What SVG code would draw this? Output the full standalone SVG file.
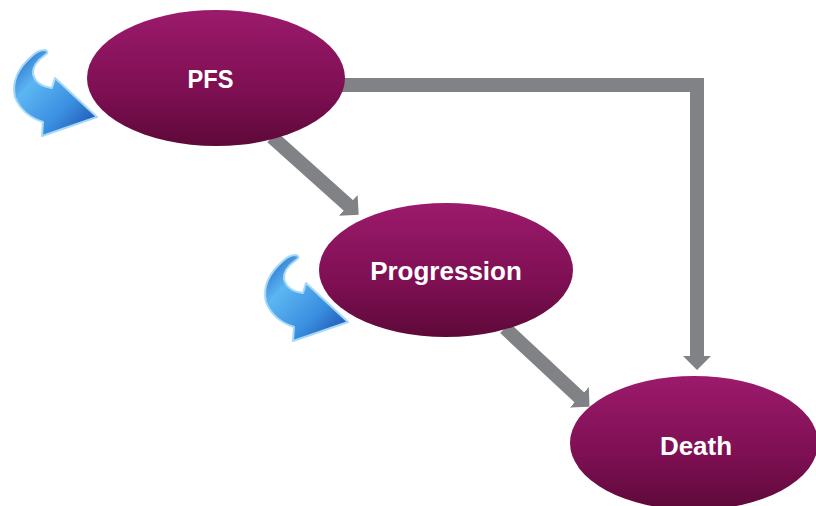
<svg xmlns="http://www.w3.org/2000/svg" width="816" height="506" viewBox="0 0 816 506">
<defs>
<linearGradient id="nodeFill" x1="0" y1="0" x2="0" y2="1">
<stop offset="0" stop-color="#9c1a6c"/>
<stop offset="0.6" stop-color="#7d0f52"/>
<stop offset="1" stop-color="#5e0939"/>
</linearGradient>
<linearGradient id="blueFill" x1="0" y1="0" x2="1" y2="1">
<stop offset="0" stop-color="#1f5fc0"/>
<stop offset="0.3" stop-color="#5cb6f2"/>
<stop offset="0.65" stop-color="#3a8fe0"/>
<stop offset="1" stop-color="#1746a8"/>
</linearGradient>
<marker id="head" markerUnits="userSpaceOnUse" markerWidth="16" markerHeight="30" viewBox="0 -15 16 30" refX="1" refY="0" orient="auto">
<path d="M0,-14 L14,0 L0,14 Z" fill="#808285"/>
</marker>
<style>
.conn{fill:none;stroke:#808285;stroke-width:14;marker-end:url(#head)}
.node{fill:url(#nodeFill)}
.label{fill:#ffffff;font-family:"Liberation Sans",Arial,sans-serif;font-weight:bold;font-size:26px;text-anchor:middle}
.loop{fill:url(#blueFill);stroke:#a6d8f8;stroke-width:2;stroke-linejoin:round}
</style>
</defs>
<rect width="816" height="506" fill="#ffffff"/>
<g id="connectors">
<polyline class="conn" points="330,85 697,85 697,357"/>
<line class="conn" x1="272" y1="137" x2="349" y2="206"/>
<line class="conn" x1="505" y1="328" x2="580" y2="398"/>
</g>
<g id="node-pfs">
<ellipse class="node" cx="216" cy="78" rx="129" ry="68"/>
<text class="label" x="210.5" y="88" textLength="46" lengthAdjust="spacingAndGlyphs">PFS</text>
</g>
<g id="node-progression">
<ellipse class="node" cx="446" cy="270" rx="127" ry="67"/>
<text class="label" x="446" y="280">Progression</text>
</g>
<g id="node-death">
<ellipse class="node" cx="694" cy="443" rx="124" ry="67"/>
<text class="label" x="696" y="455">Death</text>
</g>
<g id="loop-pfs">
<path class="loop" d="M45,50 Q50,52 45,55 Q32,64 33,74 Q36,86 52,88 L55,78 L97,117 L42,136 L43,122 Q22,115 15,97 Q10,75 32,56 Q38,50 45,50 Z"/>
</g>
<g id="loop-progression">
<path class="loop" transform="translate(251,205)" d="M45,50 Q50,52 45,55 Q32,64 33,74 Q36,86 52,88 L55,78 L97,117 L42,136 L43,122 Q22,115 15,97 Q10,75 32,56 Q38,50 45,50 Z"/>
</g>
</svg>
